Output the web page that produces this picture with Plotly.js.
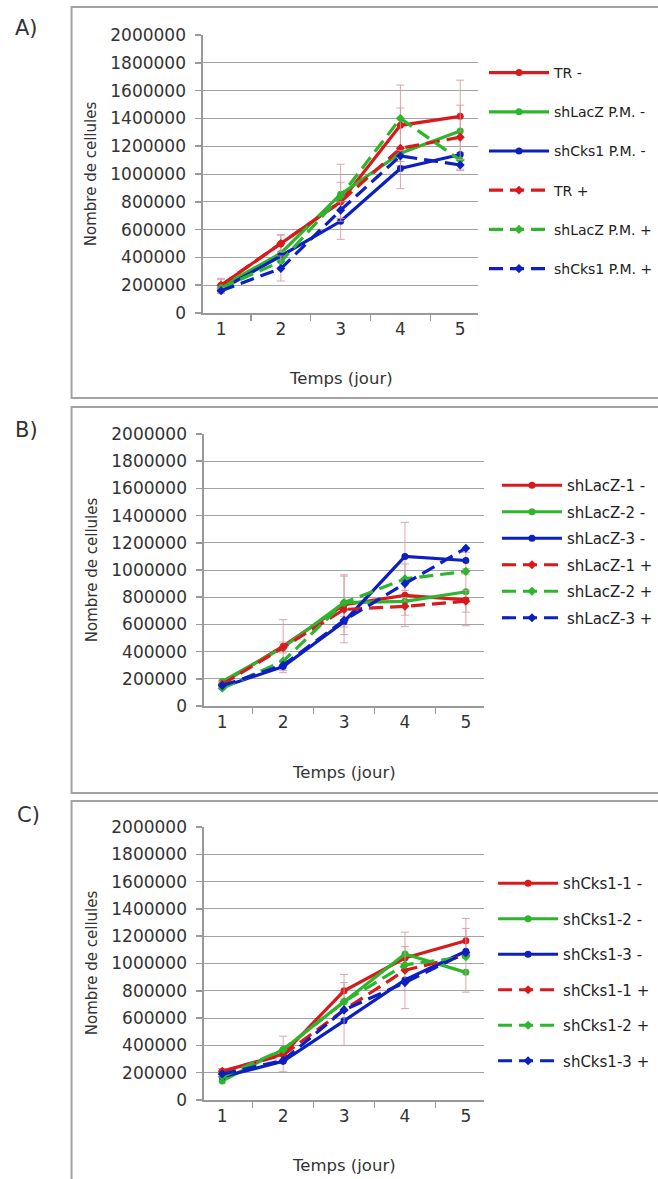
<!DOCTYPE html>
<html>
<head>
<meta charset="utf-8">
<script src="https://cdn.plot.ly/plotly-3.0.1.min.js"></script>
<style>html,body{margin:0;padding:0;background:#fff;}#chart{width:658px;height:1179px;}</style>
</head>
<body>
<div id="chart"></div>
<script>
// ---------- data ----------
const days = ['1', '2', '3', '4', '5'];

// Panel A
const namesA = ['TR -', 'shLacZ P.M. -', 'shCks1 P.M. -', 'TR +', 'shLacZ P.M. +', 'shCks1 P.M. +'];
const A_TR_minus     = [200000, 498000, 800000, 1350000, 1415000];
const A_shLacZ_minus = [190000, 430000, 855000, 1150000, 1310000];
const A_shCks1_minus = [170000, 410000, 660000, 1040000, 1140000];
const A_TR_plus      = [200000, 500000, 800000, 1185000, 1265000];
const A_shLacZ_plus  = [180000, 370000, 840000, 1400000, 1100000];
const A_shCks1_plus  = [160000, 320000, 740000, 1130000, 1065000];
const errA_TR_minus  = [50000, 65000, 270000, 290000, 260000];
const errA_TR_plus   = [40000, 60000, 140000, 290000, 230000];
const errA_shCks1_plus = [20000, 90000, 60000, 40000, 40000];

// Panel B
const namesB = ['shLacZ-1 -', 'shLacZ-2 -', 'shLacZ-3 -', 'shLacZ-1 +', 'shLacZ-2 +', 'shLacZ-3 +'];
const B_1_minus = [170000, 440000, 745000, 814000, 780000];
const B_2_minus = [180000, 430000, 760000, 770000, 840000];
const B_3_minus = [140000, 290000, 620000, 1100000, 1070000];
const B_1_plus  = [160000, 430000, 710000, 733000, 770000];
const B_2_plus  = [130000, 330000, 760000, 935000, 990000];
const B_3_plus  = [150000, 300000, 630000, 900000, 1160000];
const errB_1_minus = [20000, 195000, 220000, 230000, 190000];
const errB_1_plus  = [20000, 40000, 245000, 65000, 80000];
const errB_3_minus = [15000, 30000, 40000, 250000, 60000];

// Panel C
const namesC = ['shCks1-1 -', 'shCks1-2 -', 'shCks1-3 -', 'shCks1-1 +', 'shCks1-2 +', 'shCks1-3 +'];
const C_1_minus = [210000, 337000, 800000, 1040000, 1167000];
const C_2_minus = [140000, 370000, 720000, 1070000, 935000];
const C_3_minus = [170000, 283000, 580000, 880000, 1090000];
const C_1_plus  = [210000, 330000, 660000, 950000, 1060000];
const C_2_plus  = [170000, 370000, 720000, 990000, 1050000];
const C_3_plus  = [190000, 290000, 660000, 860000, 1080000];
const errC_1_minus = [20000, 130000, 60000, 85000, 90000];
const errC_1_plus  = [20000, 40000, 260000, 280000, 270000];

// ---------- styling ----------
const RED = '#d91a1c', GREEN = '#2eb52e', BLUE = '#0c1fc0';
const ERR = 'rgba(214,150,160,0.85)';
const FONT = 'DejaVu Sans, Verdana, sans-serif';
const W = 658, H = 1179;
const px = v => v / W;
const py = v => 1 - v / H;

function tr(y, name, color, dashed, xa, ya, leg, err) {
  const t = {
    x: days, y: y, name: name, type: 'scatter', mode: 'lines+markers',
    xaxis: xa, yaxis: ya, legend: leg, legendgroup: leg + name,
    line: {color: color, width: 3.2, dash: dashed ? '14px,7px' : 'solid'},
    marker: {color: color, size: 7, symbol: dashed ? 'diamond' : 'circle'}
  };
  if (err) t.error_y = {type: 'data', array: err, visible: true, color: ERR, thickness: 1, width: 4};
  return t;
}

const data = [
  tr(A_TR_minus, namesA[0], RED, false, 'x', 'y', 'legend', errA_TR_minus),
  tr(A_shLacZ_minus, namesA[1], GREEN, false, 'x', 'y', 'legend'),
  tr(A_shCks1_minus, namesA[2], BLUE, false, 'x', 'y', 'legend'),
  tr(A_TR_plus, namesA[3], RED, true, 'x', 'y', 'legend', errA_TR_plus),
  tr(A_shLacZ_plus, namesA[4], GREEN, true, 'x', 'y', 'legend'),
  tr(A_shCks1_plus, namesA[5], BLUE, true, 'x', 'y', 'legend', errA_shCks1_plus),

  tr(B_1_minus, namesB[0], RED, false, 'x2', 'y2', 'legend2', errB_1_minus),
  tr(B_2_minus, namesB[1], GREEN, false, 'x2', 'y2', 'legend2'),
  tr(B_3_minus, namesB[2], BLUE, false, 'x2', 'y2', 'legend2', errB_3_minus),
  tr(B_1_plus, namesB[3], RED, true, 'x2', 'y2', 'legend2', errB_1_plus),
  tr(B_2_plus, namesB[4], GREEN, true, 'x2', 'y2', 'legend2'),
  tr(B_3_plus, namesB[5], BLUE, true, 'x2', 'y2', 'legend2'),

  tr(C_1_minus, namesC[0], RED, false, 'x3', 'y3', 'legend3', errC_1_minus),
  tr(C_2_minus, namesC[1], GREEN, false, 'x3', 'y3', 'legend3'),
  tr(C_3_minus, namesC[2], BLUE, false, 'x3', 'y3', 'legend3'),
  tr(C_1_plus, namesC[3], RED, true, 'x3', 'y3', 'legend3', errC_1_plus),
  tr(C_2_plus, namesC[4], GREEN, true, 'x3', 'y3', 'legend3'),
  tr(C_3_plus, namesC[5], BLUE, true, 'x3', 'y3', 'legend3')
];

function xax(x0, x1, ya) {
  return {
    domain: [px(x0), px(x1)], anchor: ya, type: 'category', tickson: 'boundaries',
    ticks: 'outside', ticklen: 6, tickcolor: '#999', tickwidth: 1.5,
    showline: true, linecolor: '#999', linewidth: 1.5, showgrid: false, zeroline: false,
    tickfont: {family: FONT, size: 17, color: '#333'}, fixedrange: true
  };
}
function yax(top, bottom, xa) {
  return {
    domain: [py(bottom), py(top)], anchor: xa, range: [0, 2000000], dtick: 200000, tick0: 0,
    tickformat: 'd', ticks: 'outside', ticklen: 6, tickcolor: '#999', tickwidth: 1.5,
    showline: true, linecolor: '#999', linewidth: 1.5, showgrid: true, gridcolor: '#a3a3a3', gridwidth: 1,
    zeroline: false, ticklabelstandoff: 6,
    tickfont: {family: FONT, size: 17, color: '#333'}, fixedrange: true
  };
}
function leg(topPx, leftPx, gap, size) {
  return {
    x: px(leftPx), y: py(topPx), xanchor: 'left', yanchor: 'top', orientation: 'v',
    bgcolor: 'rgba(0,0,0,0)', borderwidth: 0, itemwidth: 60, tracegroupgap: gap,
    font: {family: FONT, size: size, color: '#222'}, itemclick: false
  };
}
function frame(x0, y0, x1, y1) {
  return {type: 'rect', xref: 'paper', yref: 'paper', x0: px(x0), x1: px(x1), y0: py(y0), y1: py(y1),
          line: {color: '#a3a3a3', width: 2}, fillcolor: 'rgba(0,0,0,0)', layer: 'below'};
}
function ann(text, x, y, size, angle) {
  return {text: text, xref: 'paper', yref: 'paper', x: px(x), y: py(y), xanchor: 'center', yanchor: 'middle',
          showarrow: false, textangle: angle || 0, font: {family: FONT, size: size, color: '#333'}};
}

const layout = {
  width: W, height: H, margin: {l: 0, r: 0, t: 0, b: 0},
  paper_bgcolor: '#fff', plot_bgcolor: 'rgba(0,0,0,0)', showlegend: true,
  xaxis: xax(207, 488, 'y'), yaxis: yax(35, 313, 'x'),
  xaxis2: xax(208, 494, 'y2'), yaxis2: yax(434, 706, 'x2'),
  xaxis3: xax(208, 494, 'y3'), yaxis3: yax(827, 1100, 'x3'),
  legend: leg(57, 494, 18, 14),
  legend2: leg(469, 507, 4, 15),
  legend3: leg(867, 503, 13, 15),
  shapes: [frame(73, 7, 720, 398), frame(73, 407, 720, 793), frame(73, 801, 720, 1195)],
  annotations: [
    ann('A)', 27, 28, 21), ann('B)', 27, 430, 21), ann('C)', 29, 815, 21),
    ann('Nombre de cellules', 93, 174, 15, -90),
    ann('Nombre de cellules', 94, 570, 15, -90),
    ann('Nombre de cellules', 94, 963, 15, -90),
    ann('Temps (jour)', 348, 378, 16.5), ann('Temps (jour)', 351, 772, 16.5), ann('Temps (jour)', 351, 1165, 16.5)
  ]
};

Plotly.newPlot('chart', data, layout, {staticPlot: true, displayModeBar: false});
</script>
</body>
</html>
